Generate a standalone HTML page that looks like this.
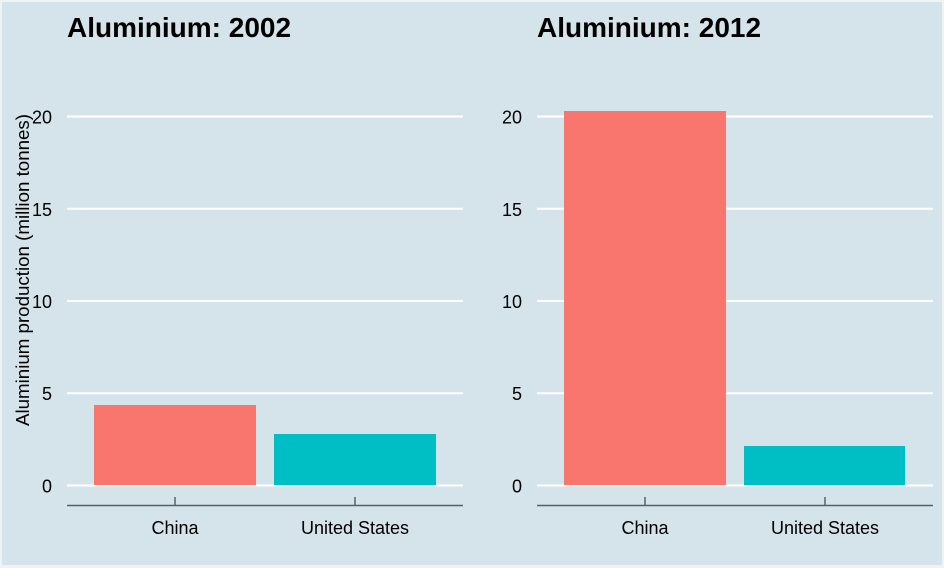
<!DOCTYPE html>
<html>
<head>
<meta charset="utf-8">
<style>
html,body{margin:0;padding:0;background:#f2f6f8;}
svg{display:block;}
text{font-family:"Liberation Sans",Arial,sans-serif;}
</style>
</head>
<body>
<svg width="944" height="568" viewBox="0 0 944 568" xmlns="http://www.w3.org/2000/svg">
  <rect x="0" y="0" width="944" height="568" fill="#eef3f6"/>
  <rect x="2" y="2" width="940" height="563" fill="#d5e4eb"/>

  <!-- LEFT PANEL -->
  <text x="67" y="37" font-size="28" font-weight="bold" fill="#000">Aluminium: 2002</text>
  <g stroke="#ffffff" stroke-width="2">
    <line x1="67" y1="116.5" x2="463" y2="116.5"/>
    <line x1="67" y1="208.8" x2="463" y2="208.8"/>
    <line x1="67" y1="301" x2="463" y2="301"/>
    <line x1="67" y1="393.2" x2="463" y2="393.2"/>
    <line x1="67" y1="485.5" x2="463" y2="485.5"/>
  </g>
  <g font-size="18" fill="#000" text-anchor="end">
    <text x="52" y="123.5">20</text>
    <text x="52" y="215.8">15</text>
    <text x="52" y="308">10</text>
    <text x="52" y="400.2">5</text>
    <text x="52" y="492.5">0</text>
  </g>
  <rect x="94" y="405" width="162" height="80" fill="#F8766D"/>
  <rect x="274" y="434" width="162" height="51" fill="#00BFC4"/>
  <g stroke="#55616a" stroke-width="1.5">
    <line x1="67" y1="505.5" x2="463" y2="505.5"/>
    <line x1="175" y1="497" x2="175" y2="505"/>
    <line x1="355" y1="497" x2="355" y2="505"/>
  </g>
  <g font-size="18" fill="#000" text-anchor="middle">
    <text x="175" y="534">China</text>
    <text x="355" y="534">United States</text>
  </g>
  <text transform="translate(29,270) rotate(-90)" font-size="18.5" text-anchor="middle" textLength="312" lengthAdjust="spacingAndGlyphs" fill="#000">Aluminium production (million tonnes)</text>

  <!-- RIGHT PANEL -->
  <text x="537" y="37" font-size="28" font-weight="bold" fill="#000">Aluminium: 2012</text>
  <g stroke="#ffffff" stroke-width="2">
    <line x1="537" y1="116.5" x2="933" y2="116.5"/>
    <line x1="537" y1="208.8" x2="933" y2="208.8"/>
    <line x1="537" y1="301" x2="933" y2="301"/>
    <line x1="537" y1="393.2" x2="933" y2="393.2"/>
    <line x1="537" y1="485.5" x2="933" y2="485.5"/>
  </g>
  <g font-size="18" fill="#000" text-anchor="end">
    <text x="522" y="123.5">20</text>
    <text x="522" y="215.8">15</text>
    <text x="522" y="308">10</text>
    <text x="522" y="400.2">5</text>
    <text x="522" y="492.5">0</text>
  </g>
  <rect x="564" y="111" width="162" height="374" fill="#F8766D"/>
  <rect x="744" y="446" width="161" height="39" fill="#00BFC4"/>
  <g stroke="#55616a" stroke-width="1.5">
    <line x1="537" y1="505.5" x2="933" y2="505.5"/>
    <line x1="645" y1="497" x2="645" y2="505"/>
    <line x1="825" y1="497" x2="825" y2="505"/>
  </g>
  <g font-size="18" fill="#000" text-anchor="middle">
    <text x="645" y="534">China</text>
    <text x="825" y="534">United States</text>
  </g>
</svg>
</body>
</html>
